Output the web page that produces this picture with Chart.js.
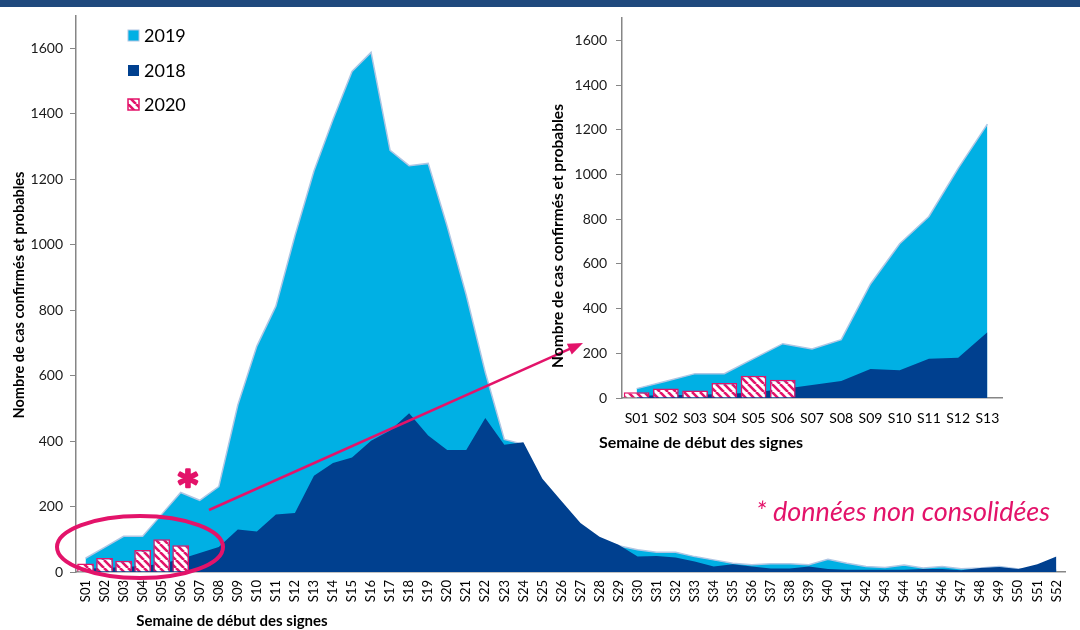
<!DOCTYPE html>
<html>
<head>
<meta charset="utf-8">
<script src="https://cdn.jsdelivr.net/npm/chart.js@4/dist/chart.umd.min.js"></script>
<style>
    body { margin: 0; background: #fff; }
    #wrap { position: relative; width: 1080px; height: 630px; overflow: hidden; }
    #mainChart { position: absolute; left: 0; top: 0; }
    #insetChart { position: absolute; left: 540px; top: 0; }
</style>
</head>
<body>
<div id="wrap">
    <canvas id="mainChart" width="1080" height="630"></canvas>
    <canvas id="insetChart" width="540" height="460"></canvas>
</div>
<script>
// weeks and weekly counts
const weeks = ["S01","S02","S03","S04","S05","S06","S07","S08","S09","S10","S11","S12","S13",
    "S14","S15","S16","S17","S18","S19","S20","S21","S22","S23","S24","S25","S26",
    "S27","S28","S29","S30","S31","S32","S33","S34","S35","S36","S37","S38","S39",
    "S40","S41","S42","S43","S44","S45","S46","S47","S48","S49","S50","S51","S52"];
const cases2019 = [42, 75, 109, 109, 176, 243, 219, 261, 510, 690, 812, 1027, 1225,
    1382, 1529, 1587, 1288, 1241, 1248, 1056, 846, 610, 405, 390, 260, 190,
    135, 100, 80, 68, 60, 60, 47, 37, 27, 22, 25, 25, 22,
    39, 27, 17, 14, 21, 12, 17, 10, 12, 17, 9, 10, 5];
const cases2018 = [10, 12, 15, 18, 25, 40, 58, 76, 130, 124, 176, 180, 294,
    333, 350, 401, 432, 485, 417, 373, 373, 470, 389, 396, 285, 217,
    150, 108, 83, 47, 49, 44, 32, 17, 24, 17, 11, 11, 17,
    9, 7, 7, 7, 7, 9, 9, 5, 12, 15, 9, 24, 47];
const cases2020 = [26, 43, 34, 67, 100, 82];
const insetWeeks = 13;

const BLUE_2019 = "#00B0E4";
const BLUE_2018 = "#00408F";
const PINK = "#E3136A";
const EDGE = "#AFC6E4";
const AXIS = "#868686";

Chart.defaults.font.family = "Lato, 'Open Sans', sans-serif";
Chart.defaults.color = "#1a1a1a";

function makeHatch() {
    const c = document.createElement("canvas");
    c.width = 8; c.height = 8;
    const g = c.getContext("2d");
    g.fillStyle = "#fff";
    g.fillRect(0, 0, 8, 8);
    g.strokeStyle = PINK;
    g.lineWidth = 2.6;
    g.beginPath();
    for (let o = -8; o <= 8; o += 8) {
        g.moveTo(o, 0);
        g.lineTo(o + 8, 8);
    }
    g.stroke();
    return g.createPattern(c, "repeat");
}
const hatch = makeHatch();

function buildDatasets(n) {
    return [
        { type: "bar", label: "2020", data: cases2020.slice(0, n), backgroundColor: hatch,
          borderColor: PINK, borderWidth: 1.5, categoryPercentage: 1, barPercentage: 0.88, order: 0 },
        { type: "line", label: "2018", data: cases2018.slice(0, n), fill: "origin", backgroundColor: BLUE_2018,
          borderWidth: 0, pointRadius: 0, tension: 0, order: 1 },
        { type: "line", label: "2019", data: cases2019.slice(0, n), fill: "origin", backgroundColor: BLUE_2019,
          borderColor: EDGE, borderWidth: 1.5, pointRadius: 0, tension: 0, order: 2 }
    ];
}

function drawRotated(ctx, text, x, y, font) {
    ctx.save();
    ctx.translate(x, y);
    ctx.rotate(-Math.PI / 2);
    ctx.font = font;
    ctx.textAlign = "center";
    ctx.textBaseline = "middle";
    ctx.fillStyle = "#000";
    ctx.fillText(text, 0, 0);
    ctx.restore();
}

const mainDecor = {
    id: "mainDecor",
    afterDraw(chart) {
        const ctx = chart.ctx;
        ctx.save();
        // band on top
        ctx.fillStyle = "#1F497D";
        ctx.fillRect(0, 0, 1080, 7);

        // legend
        const items = [["2019", 36], ["2018", 71], ["2020", 105]];
        items.forEach(([txt, y]) => {
            if (txt === "2019") { ctx.fillStyle = BLUE_2019; ctx.fillRect(128, y - 6, 11, 11); ctx.strokeStyle = EDGE; ctx.lineWidth = 1; ctx.strokeRect(128, y - 6, 11, 11); }
            if (txt === "2018") { ctx.fillStyle = BLUE_2018; ctx.fillRect(128, y - 6, 11, 11); }
            if (txt === "2020") { ctx.fillStyle = hatch; ctx.fillRect(128, y - 6, 11, 11); ctx.strokeStyle = PINK; ctx.lineWidth = 1.5; ctx.strokeRect(128, y - 6, 11, 11); }
            ctx.fillStyle = "#000";
            ctx.font = "18px Lato, sans-serif";
            ctx.textAlign = "left";
            ctx.textBaseline = "middle";
            ctx.fillText(txt, 144, y);
        });

        // axis titles
        drawRotated(ctx, "Nombre de cas confirmés et probables", 19, 295, "bold 14.5px Lato, sans-serif");
        ctx.font = "bold 15px Lato, sans-serif";
        ctx.fillStyle = "#000";
        ctx.textAlign = "center";
        ctx.textBaseline = "middle";
        ctx.fillText("Semaine de début des signes", 232, 621);

        // note and star
        ctx.fillStyle = PINK;
        ctx.font = "italic 27px Lato, sans-serif";
        ctx.textAlign = "left";
        ctx.fillText("* données non consolidées", 756, 512);
        ctx.font = "bold 38px 'DejaVu Sans', sans-serif";
        ctx.textAlign = "center";
        ctx.textBaseline = "alphabetic";
        const m = ctx.measureText("*");
        const sy = 478 + (m.actualBoundingBoxAscent - m.actualBoundingBoxDescent) / 2;
        ctx.strokeStyle = PINK;
        ctx.lineWidth = 2.5;
        ctx.lineJoin = "round";
        ctx.strokeText("*", 188, sy);
        ctx.fillText("*", 188, sy);

        // ellipse around the 2020 bars
        ctx.lineWidth = 4;
        ctx.beginPath();
        ctx.ellipse(140, 547, 83, 31, 0, 0, Math.PI * 2);
        ctx.stroke();

        // arrow to the zoom
        const x0 = 209, y0 = 510, x1 = 583, y1 = 343;
        const ang = Math.atan2(y1 - y0, x1 - x0);
        ctx.lineWidth = 2.5;
        ctx.beginPath();
        ctx.moveTo(x0, y0);
        ctx.lineTo(x1 - 12 * Math.cos(ang), y1 - 12 * Math.sin(ang));
        ctx.stroke();
        ctx.fillStyle = PINK;
        ctx.beginPath();
        ctx.moveTo(x1, y1);
        ctx.lineTo(x1 - 15 * Math.cos(ang) + 6 * Math.sin(ang), y1 - 15 * Math.sin(ang) - 6 * Math.cos(ang));
        ctx.lineTo(x1 - 15 * Math.cos(ang) - 6 * Math.sin(ang), y1 - 15 * Math.sin(ang) + 6 * Math.cos(ang));
        ctx.closePath();
        ctx.fill();
        ctx.restore();
    }
};

const insetDecor = {
    id: "insetDecor",
    afterDraw(chart) {
        const ctx = chart.ctx;
        drawRotated(ctx, "Nombre de cas confirmés et probables", 18, 236, "bold 15.5px Lato, sans-serif");
        ctx.save();
        ctx.font = "bold 16px Lato, sans-serif";
        ctx.fillStyle = "#000";
        ctx.textAlign = "center";
        ctx.textBaseline = "middle";
        ctx.fillText("Semaine de début des signes", 161, 443);
        ctx.restore();
    }
};

const plainTick = v => String(v);

new Chart(document.getElementById("mainChart"), {
    type: "bar",
    data: { labels: weeks, datasets: buildDatasets(weeks.length) },
    options: {
        responsive: false,
        animation: false,
        layout: { padding: { top: 13, right: 2, left: 0, bottom: 0 } },
        plugins: { legend: { display: false }, tooltip: { enabled: false } },
        scales: {
            x: {
                offset: true,
                grid: { display: false, drawTicks: false },
                border: { display: true, color: AXIS, width: 1.5 },
                ticks: { font: { size: 13 }, color: "#000", minRotation: 90, maxRotation: 90, autoSkip: false, padding: 8 },
                afterFit(s) { s.height = 58; }
            },
            y: {
                min: 0, max: 1700,
                ticks: { stepSize: 200, includeBounds: false, font: { size: 14 }, color: "#1a1a1a", padding: 7, callback: plainTick },
                grid: { drawOnChartArea: false, drawTicks: true, tickLength: 6, color: AXIS },
                border: { color: AXIS, width: 1.5 },
                afterFit(s) { s.width = 76; }
            }
        }
    },
    plugins: [mainDecor]
});

new Chart(document.getElementById("insetChart"), {
    type: "bar",
    data: { labels: weeks.slice(0, insetWeeks), datasets: buildDatasets(insetWeeks) },
    options: {
        responsive: false,
        animation: false,
        layout: { padding: { top: 18, right: 78, left: 0, bottom: 0 } },
        plugins: { legend: { display: false }, tooltip: { enabled: false } },
        scales: {
            x: {
                offset: true,
                grid: { display: false, drawTicks: false },
                border: { display: true, color: AXIS, width: 1.5 },
                ticks: { font: { size: 14 }, color: "#000", maxRotation: 0, autoSkip: false, padding: 12 },
                afterFit(s) { s.height = 62; }
            },
            y: {
                min: 0, max: 1700,
                ticks: { stepSize: 200, includeBounds: false, font: { size: 14 }, color: "#1a1a1a", padding: 9, callback: plainTick },
                grid: { drawOnChartArea: false, drawTicks: true, tickLength: 6, color: AXIS },
                border: { color: AXIS, width: 1.5 },
                afterFit(s) { s.width = 82; }
            }
        }
    },
    plugins: [insetDecor]
});
</script>
</body>
</html>
